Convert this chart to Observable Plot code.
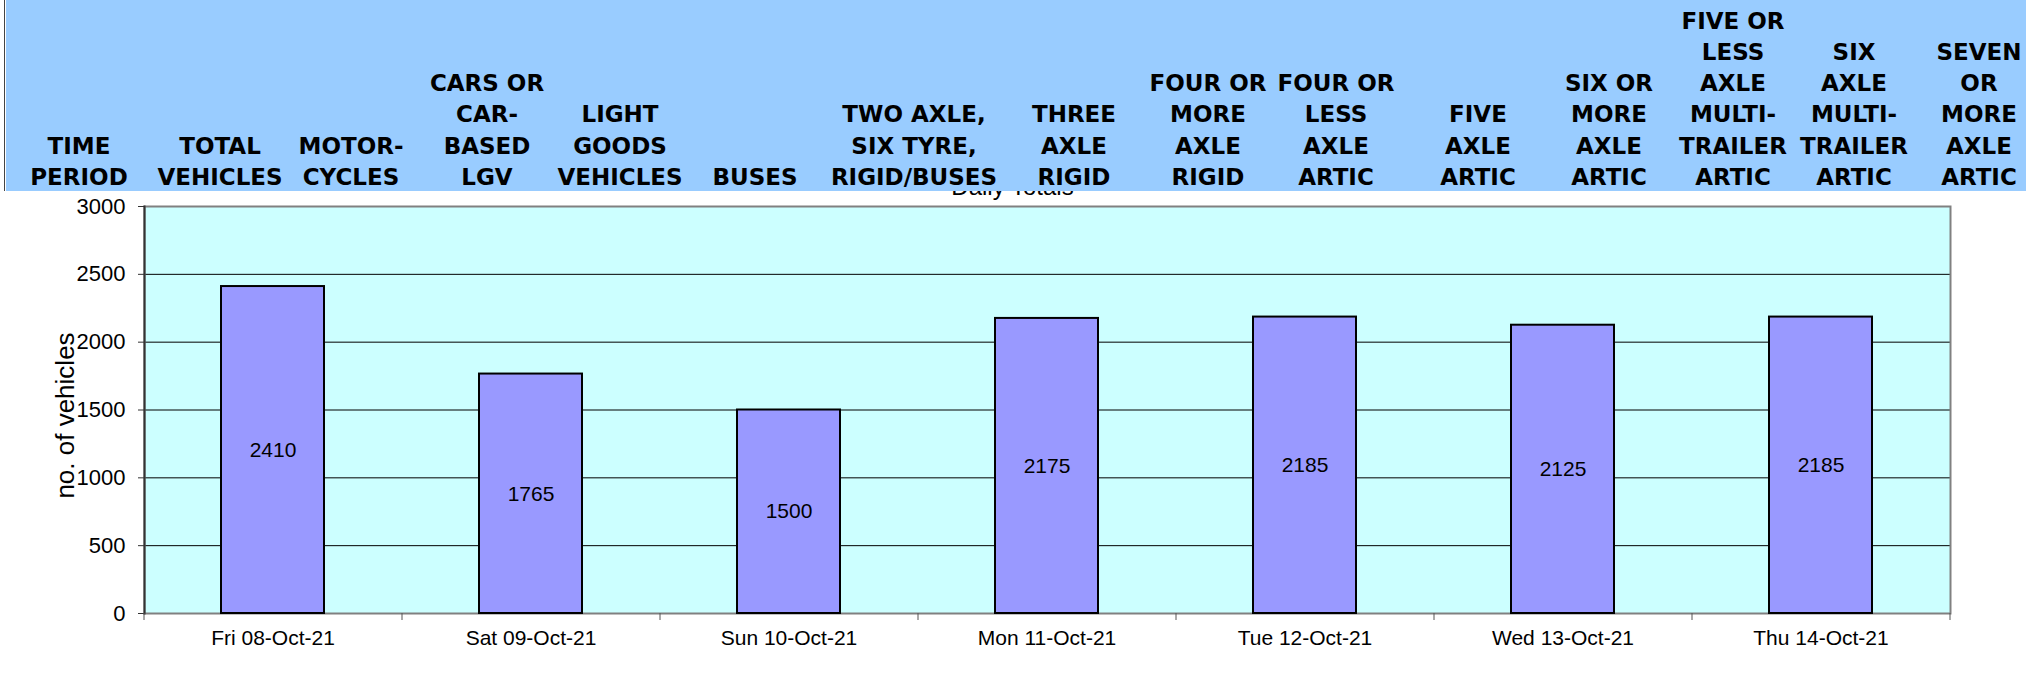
<!DOCTYPE html>
<html>
<head>
<meta charset="utf-8">
<script src="https://cdn.jsdelivr.net/npm/d3@7"></script>
<script src="https://cdn.jsdelivr.net/npm/@observablehq/plot@0.6"></script>
<style>
  html, body { margin: 0; padding: 0; background: #fff; }
  #page { position: relative; width: 2026px; height: 678px; overflow: hidden; font-family: "Liberation Sans", Arial, sans-serif; }
  #frame { position: absolute; left: 4px; top: -10px; width: 2017px; height: 720px; border-left: 1px solid #444; border-right: 1px solid #444; box-sizing: border-box; z-index: 0; }
  #header { position: absolute; left: 6px; top: 0; width: 2020px; height: 191px; background: #99CCFF; z-index: 3; }
  .col { position: absolute; bottom: -2px; width: max-content; transform: translateX(-50%); text-align: center;
         font-family: "DejaVu Sans", sans-serif; font-weight: bold; font-size: 23px; line-height: 31.2px; color: #000; white-space: nowrap; }
  #chart { position: absolute; left: 0; top: 191px; z-index: 1; }
</style>
</head>
<body>
<div id="page">
  <div id="frame"></div>
  <div id="chart"></div>
  <div id="header"></div>
</div>
<script>
// ---- data ----
const days = ["Fri 08-Oct-21", "Sat 09-Oct-21", "Sun 10-Oct-21", "Mon 11-Oct-21", "Tue 12-Oct-21", "Wed 13-Oct-21", "Thu 14-Oct-21"];
const totals = [2410, 1765, 1500, 2175, 2185, 2125, 2185];
const yTicks = [0, 500, 1000, 1500, 2000, 2500, 3000];
const chartTitle = "Daily Totals";
const yLabel = "no. of vehicles";
const headerLabels = [
  ["TIME", "PERIOD"],
  ["TOTAL", "VEHICLES"],
  ["MOTOR-", "CYCLES"],
  ["CARS OR", "CAR-", "BASED", "LGV"],
  ["LIGHT", "GOODS", "VEHICLES"],
  ["BUSES"],
  ["TWO AXLE,", "SIX TYRE,", "RIGID/BUSES"],
  ["THREE", "AXLE", "RIGID"],
  ["FOUR OR", "MORE", "AXLE", "RIGID"],
  ["FOUR OR", "LESS", "AXLE", "ARTIC"],
  ["FIVE", "AXLE", "ARTIC"],
  ["SIX OR", "MORE", "AXLE", "ARTIC"],
  ["FIVE OR", "LESS", "AXLE", "MULTI-", "TRAILER", "ARTIC"],
  ["SIX", "AXLE", "MULTI-", "TRAILER", "ARTIC"],
  ["SEVEN", "OR", "MORE", "AXLE", "ARTIC"]
];

// ---- layout ----
const headerCenters = [79, 220, 351, 487, 620, 755, 914, 1074, 1208, 1336, 1478, 1609, 1733, 1854, 1979];
const W = 2026, H = 487, mL = 144, mR = 76, mT = 15, mB = 65;
const halfStep = (W - mL - mR) / days.length / 2;

// header table
const header = document.getElementById("header");
headerLabels.forEach((lines, i) => {
  const d = document.createElement("div");
  d.className = "col";
  d.style.left = (headerCenters[i] - 6) + "px";
  lines.forEach((t, j) => {
    if (j) d.appendChild(document.createElement("br"));
    d.appendChild(document.createTextNode(t));
  });
  header.appendChild(d);
});

const rows = days.map((day, i) => ({day, total: totals[i]}));

const chart = Plot.plot({
  width: W, height: H,
  marginLeft: mL, marginRight: mR, marginTop: mT, marginBottom: mB,
  style: {fontFamily: '"Liberation Sans", Arial, sans-serif', background: "white", overflow: "visible", color: "#000"},
  x: {domain: days, paddingInner: 0.6, paddingOuter: 0.3, label: null},
  y: {domain: [0, 3000], label: null},
  marks: [
    Plot.frame({fill: "#CCFFFF"}),
    Plot.gridY(yTicks.slice(1, -1), {stroke: "#000", strokeOpacity: 1, strokeWidth: 1}),
    Plot.frame({stroke: "#808080", strokeWidth: 2}),
    Plot.barY(rows, {x: "day", y: "total", fill: "#9999FF", stroke: "#000", strokeWidth: 2}),
    Plot.frame({anchor: "left", stroke: "#333", strokeWidth: 2}),
    Plot.text(rows, {x: "day", y: d => d.total / 2, text: d => String(d.total), fontSize: 21, fill: "#000"}),
    Plot.axisY({ticks: yTicks, tickFormat: "d", tickSize: 6, tickPadding: 13, fontSize: 22, stroke: "#333", label: null}),
    Plot.axisX({tickSize: 0, tickPadding: 17, fontSize: 21, label: null}),
    Plot.ruleX(days, {x: d => d, y1: 0, y2: 0, dx: halfStep, insetBottom: -7, stroke: "#555"}),
    Plot.ruleX(days.slice(0, 1), {x: d => d, y1: 0, y2: 0, dx: -halfStep, insetBottom: -7, stroke: "#555"}),
    Plot.text([yLabel], {text: d => d, frameAnchor: "left", textAnchor: "middle", lineAnchor: "middle", rotate: -90, dx: -79, dy: 5.5, fontSize: 26, fill: "#000"}),
    Plot.text([chartTitle], {text: d => d, frameAnchor: "top", textAnchor: "middle", lineAnchor: "bottom", dx: -35, dy: -12, fontSize: 24, fill: "#000"})
  ]
});
document.getElementById("chart").appendChild(chart);
</script>
</body>
</html>
